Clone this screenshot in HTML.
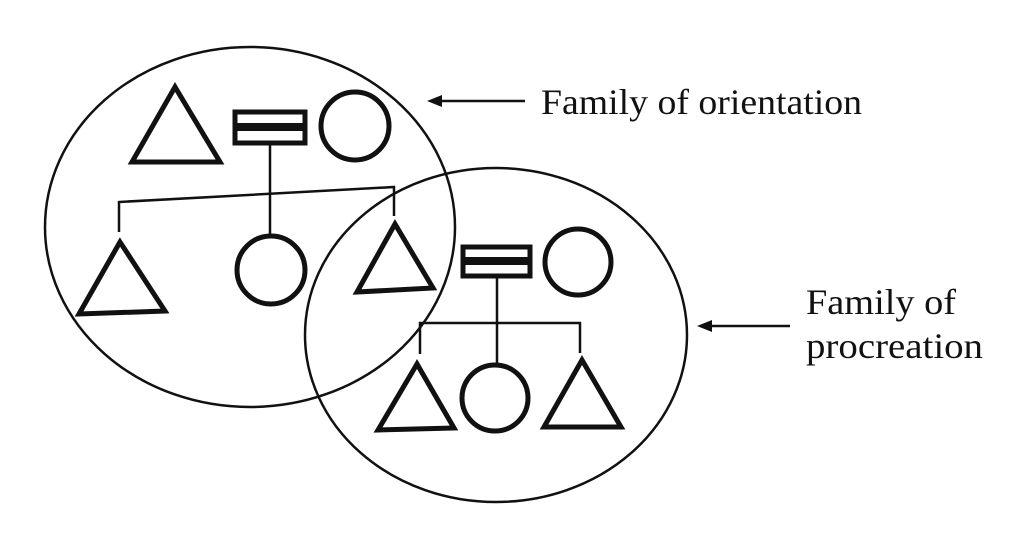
<!DOCTYPE html>
<html><head><meta charset="utf-8"><style>
html,body{margin:0;padding:0;background:#fff;}
svg{display:block;}
text{font-family:"Liberation Serif",serif;font-size:36px;fill:#111;}
</style></head><body>
<svg width="1024" height="543" viewBox="0 0 1024 543" xmlns="http://www.w3.org/2000/svg">
<g fill="none" stroke="#111">
<ellipse cx="250" cy="227" rx="205" ry="180" stroke-width="2.5"/>
<ellipse cx="496" cy="335" rx="191" ry="167" stroke-width="2.5"/>
<g stroke-width="5" stroke-linejoin="miter">
<polygon points="175,87 132,162 220,162"/>
<circle cx="355" cy="126" r="34"/>
<polygon points="120,242 79,314 165,311"/>
<circle cx="271" cy="270" r="34"/>
<polygon points="395,224 357,292 433,288"/>
<rect x="235" y="112" width="70" height="31"/>
<line x1="235" y1="127" x2="305" y2="127" stroke-width="8"/>
<polygon points="417,364 378,430 454,428"/>
<circle cx="495" cy="398" r="33"/>
<polygon points="582,360 544,427 621,427"/>
<circle cx="578" cy="262" r="33"/>
<rect x="463" y="247" width="67" height="29"/>
<line x1="463" y1="261" x2="530" y2="261" stroke-width="8"/>
</g>
<g stroke-width="2.5">
<line x1="270" y1="144" x2="270" y2="236"/>
<polyline points="119,232 119,202 394,187 394,216"/>
<line x1="497" y1="277" x2="497" y2="364"/>
<polyline points="420,354 420,323 580,323 580,353"/>
<line x1="438" y1="101" x2="525" y2="101"/>
<line x1="708" y1="326" x2="790" y2="326"/>
</g>
</g>
<polygon points="427,101 442,95 442,107" fill="#111"/>
<polygon points="697,326 712,320 712,332" fill="#111"/>
<text x="541" y="114" textLength="321" lengthAdjust="spacingAndGlyphs">Family of orientation</text>
<text x="806" y="314" textLength="150" lengthAdjust="spacingAndGlyphs">Family of</text>
<text x="806" y="358" textLength="177" lengthAdjust="spacingAndGlyphs">procreation</text>
</svg>
</body></html>
